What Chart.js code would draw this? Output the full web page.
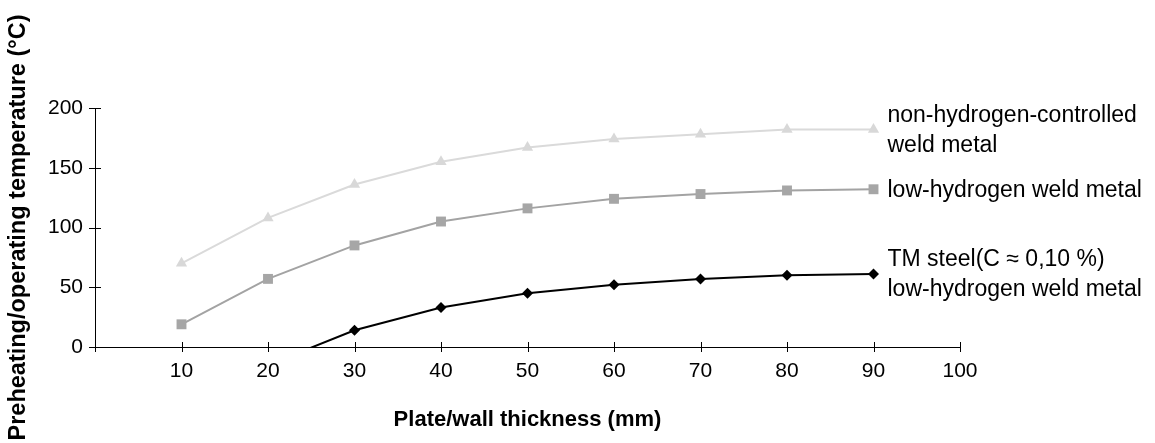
<!DOCTYPE html>
<html>
<head>
<meta charset="utf-8">
<title>Preheating temperature vs plate thickness</title>
<script src="https://cdn.jsdelivr.net/npm/chart.js@4/dist/chart.umd.min.js"></script>
<style>
  html, body { margin: 0; padding: 0; background: #fff; }
  #chart { display: block; }
</style>
</head>
<body>
<canvas id="chart" width="1155" height="443"></canvas>
<script>
// plate / wall thickness (mm)
const thickness = [10, 20, 30, 40, 50, 60, 70, 80, 90];

// preheating temperature (°C) per curve
const nonHydrogen = [70, 108, 136, 155, 167, 174, 178, 182, 182];
const lowHydrogen = [19, 57, 85, 105, 116, 124, 128, 131, 132];
// TM steel curve drops below 0 at 20 mm (clipped by the axis)
const tmSteel = [null, -15, 14, 33, 45, 52, 57, 60, 61];

const seriesLabels = [
    ['non-hydrogen-controlled', 'weld metal'],
    ['low-hydrogen weld metal'],
    ['TM steel(C \u2248 0,10 %)', 'low-hydrogen weld metal']
];

const xTitle = 'Plate/wall thickness (mm)';
const yTitle = 'Preheating/operating temperature (°C)';

const FONT = "'Liberation Sans', Arial, Helvetica, sans-serif";
Chart.defaults.font.family = FONT;
Chart.defaults.color = '#000';

function toPoints(values) {
    return thickness.map((x, i) => ({ x: x, y: values[i] }));
}

// tick marks that cross the axis line, like the original
const crossTicks = {
    id: 'crossTicks',
    afterDraw(chart) {
        const ctx = chart.ctx;
        const xs = chart.scales.x;
        const ys = chart.scales.y;
        const axisY = ys.getPixelForValue(0);
        const axisX = xs.getPixelForValue(0);
        ctx.save();
        ctx.strokeStyle = '#000';
        ctx.lineWidth = 1;
        ctx.beginPath();
        xs.ticks.forEach(t => {
            const px = Math.round(xs.getPixelForValue(t.value)) + 0.5;
            ctx.moveTo(px, axisY - 5);
            ctx.lineTo(px, axisY + 5);
        });
        ys.ticks.forEach(t => {
            const py = Math.round(ys.getPixelForValue(t.value)) + 0.5;
            ctx.moveTo(axisX - 6, py);
            ctx.lineTo(axisX + 6, py);
        });
        ctx.stroke();
        ctx.restore();
    }
};

// text labels at the end of each curve
const endLabels = {
    id: 'endLabels',
    afterDatasetsDraw(chart) {
        const ctx = chart.ctx;
        ctx.save();
        ctx.font = '23px ' + FONT;
        ctx.fillStyle = '#000';
        ctx.textAlign = 'left';
        ctx.textBaseline = 'middle';
        const lineGap = 30;
        chart.data.datasets.forEach((ds, i) => {
            const meta = chart.getDatasetMeta(i);
            const last = meta.data[meta.data.length - 1];
            const lines = seriesLabels[i];
            const startY = last.y - (lines.length - 1) * lineGap / 2 + 1;
            lines.forEach((txt, j) => {
                ctx.fillText(txt, last.x + 14, startY + j * lineGap);
            });
        });
        ctx.restore();
    }
};

new Chart(document.getElementById('chart'), {
    type: 'line',
    data: {
        datasets: [
            {
                label: seriesLabels[0].join(' '),
                data: toPoints(nonHydrogen),
                borderColor: '#dadada',
                backgroundColor: '#d8d8d8',
                borderWidth: 2,
                pointStyle: 'triangle',
                pointRadius: 6.5,
                pointBorderWidth: 0
            },
            {
                label: seriesLabels[1].join(' '),
                data: toPoints(lowHydrogen),
                borderColor: '#a3a3a3',
                backgroundColor: '#a6a6a6',
                borderWidth: 2,
                pointStyle: 'rect',
                pointRadius: 7,
                pointBorderWidth: 0
            },
            {
                label: seriesLabels[2].join(' '),
                data: toPoints(tmSteel),
                borderColor: '#000',
                backgroundColor: '#000',
                borderWidth: 2,
                pointStyle: 'rectRot',
                pointRadius: 5.5,
                pointBorderWidth: 0
            }
        ]
    },
    options: {
        responsive: false,
        animation: false,
        layout: { padding: { top: 108, right: 195, left: 0, bottom: 0 } },
        plugins: {
            legend: { display: false },
            tooltip: { enabled: false }
        },
        elements: { line: { tension: 0 } },
        scales: {
            x: {
                type: 'linear',
                min: 0,
                max: 100,
                grid: { display: false, drawTicks: false },
                border: { display: true, color: '#000', width: 1 },
                ticks: {
                    stepSize: 10,
                    padding: 12,
                    maxRotation: 0,
                    font: { size: 21 },
                    callback: v => (v === 0 ? '' : v)
                },
                title: {
                    display: true,
                    text: xTitle,
                    font: { size: 22, weight: 'bold' },
                    padding: { top: 0, bottom: 10 }
                },
                afterFit(scale) { scale.height = 96; }
            },
            y: {
                min: 0,
                max: 200,
                grid: { display: false, drawTicks: false },
                border: { display: true, color: '#000', width: 1 },
                ticks: {
                    stepSize: 50,
                    padding: 12,
                    font: { size: 21 }
                },
                title: {
                    display: true,
                    text: yTitle,
                    font: { size: 23.5, weight: 'bold' },
                    padding: { top: 4, bottom: 0 }
                },
                afterFit(scale) { scale.width = 95; }
            }
        }
    },
    plugins: [crossTicks, endLabels]
});
</script>
</body>
</html>
